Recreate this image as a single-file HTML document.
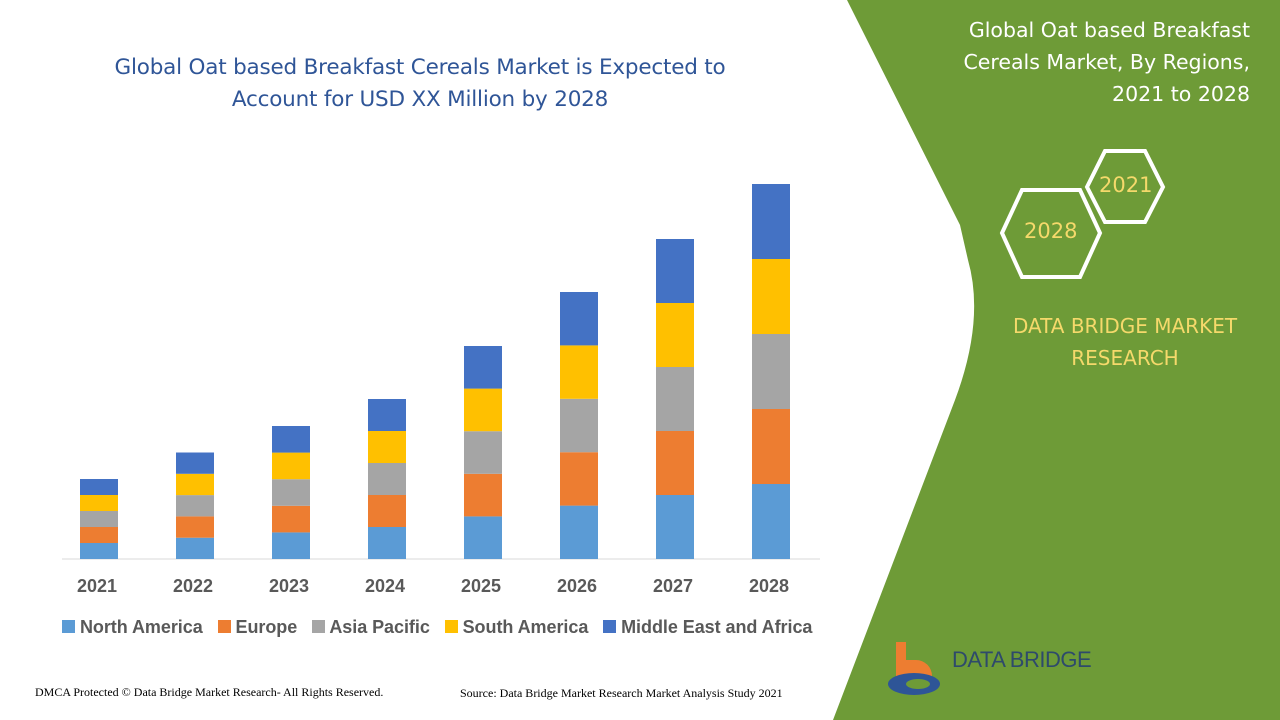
<!DOCTYPE html>
<html><head><meta charset="utf-8"><style>
body{margin:0;width:1280px;height:720px;overflow:hidden;background:#fff;font-family:"Liberation Sans",sans-serif;position:relative}
.t{position:absolute;white-space:nowrap}
</style></head><body>
<svg width="1280" height="720" style="position:absolute;left:0;top:0">
<path d="M847,0 L1280,0 L1280,720 L833,720 L955,400 Q985,320 968,260 L960,225 Z" fill="#6e9b37"/>
<g fill="none" stroke="#fff" stroke-width="4">
<polygon points="1022,190 1080,190 1100,233 1080,277 1022,277 1002,233"/>
<polygon points="1105,151 1145,151 1163,187 1145,222 1105,222 1087,187"/>
</g>
<line x1="62" y1="559" x2="820" y2="559" stroke="#d9d9d9" stroke-width="1"/>
<g id="bars"></g>
</svg>
<div class="t" style="left:60px;top:52px;width:720px;text-align:center;line-height:32px;color:#2f5597;font-family:'DejaVu Sans','Liberation Sans',sans-serif;font-size:21.5px;letter-spacing:-0.2px">Global Oat based Breakfast Cereals Market is Expected to<br>Account for USD XX Million by 2028</div>
<div class="t" style="right:30px;top:14px;text-align:right;line-height:32px;color:#fff;font-family:'DejaVu Sans',sans-serif;font-size:20.5px">Global Oat based Breakfast<br>Cereals Market, By Regions,<br>2021 to 2028</div>
<div class="t" style="left:1024px;top:219px;font-size:21px;color:#f5d96b;font-family:'DejaVu Sans',sans-serif">2028</div>
<div class="t" style="left:1099px;top:173px;font-size:21px;color:#f5d96b;font-family:'DejaVu Sans',sans-serif">2021</div>
<div class="t" style="left:990px;top:310px;width:270px;text-align:center;line-height:32px;color:#f5d96b;font-family:'DejaVu Sans',sans-serif;font-size:20px">DATA BRIDGE MARKET<br>RESEARCH</div>
<div id="years"></div>
<div class="t" style="left:62px;top:617px;font-size:18px;font-weight:bold;color:#595959;letter-spacing:-0.05px">
<span style="display:inline-block;width:13px;height:13px;background:#5b9bd5"></span> North America&nbsp;&nbsp;
<span style="display:inline-block;width:13px;height:13px;background:#ed7d31"></span> Europe&nbsp;&nbsp;
<span style="display:inline-block;width:13px;height:13px;background:#a5a5a5"></span> Asia Pacific&nbsp;&nbsp;
<span style="display:inline-block;width:13px;height:13px;background:#ffc000"></span> South America&nbsp;&nbsp;
<span style="display:inline-block;width:13px;height:13px;background:#4472c4"></span> Middle East and Africa</div>
<div class="t" style="left:35px;top:685px;font-family:'Liberation Serif',serif;font-size:12px;color:#000">DMCA Protected © Data Bridge Market Research- All Rights Reserved.</div>
<div class="t" style="left:460px;top:686px;font-family:'Liberation Serif',serif;font-size:12px;color:#000">Source: Data Bridge Market Research Market Analysis Study 2021</div>
<svg width="70" height="60" style="position:absolute;left:882px;top:640px">
<path d="M14,2 h10 v18 h10 a16,16 0 0 1 0,32 h-20z" fill="#ed7d31"/>
<ellipse cx="32" cy="44" rx="26" ry="11" fill="#2e5597"/>
<ellipse cx="36" cy="44" rx="12" ry="5" fill="#6e9b37"/>
</svg>
<div class="t" style="left:952px;top:647px;font-size:22px;color:#2e4a6b;letter-spacing:-0.5px">DATA BRIDGE</div>
<script>
const base=559,xs=[80,176,272,368,464,560,656,752],seg=[16,21.3,26.6,32,42.6,53.4,64,75];
const cols=['#5b9bd5','#ed7d31','#a5a5a5','#ffc000','#4472c4'];
let s='';xs.forEach((x,i)=>{let y=base;cols.forEach(c=>{y-=seg[i];s+=`<rect x="${x}" y="${y}" width="38" height="${seg[i]}" fill="${c}"/>`;});});
document.getElementById('bars').innerHTML=s;
let h='';xs.forEach((x,i)=>{h+=`<div class="t" style="left:${x-3}px;top:576px;font-size:18px;font-weight:bold;color:#595959">${2021+i}</div>`});
document.getElementById('years').innerHTML=h;
</script>
</body></html>
